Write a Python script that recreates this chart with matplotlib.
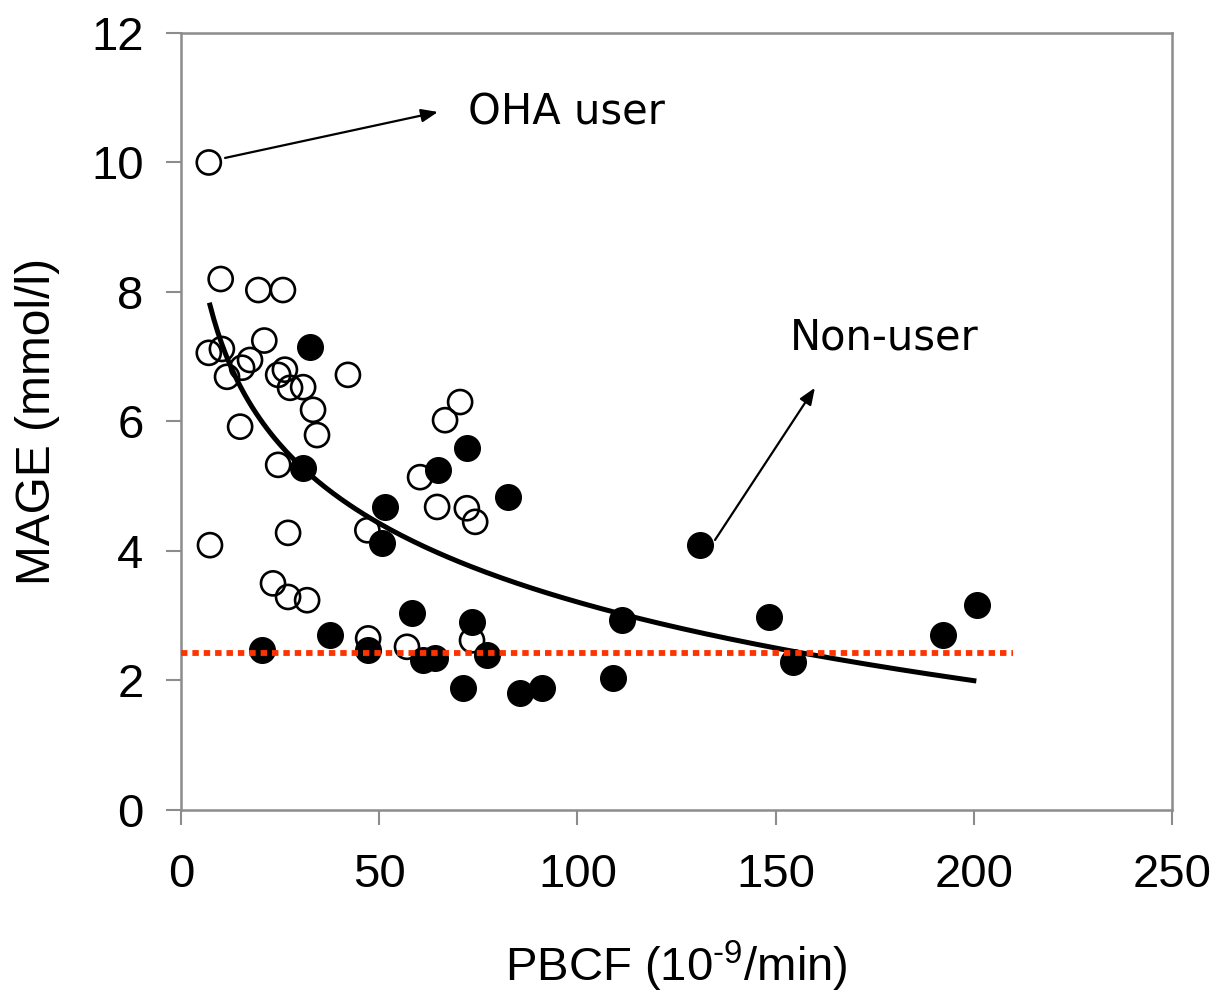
import matplotlib
matplotlib.use("Agg")
import matplotlib.pyplot as plt
import numpy as np

plt.rcParams["font.family"] = ["Liberation Sans", "DejaVu Sans"]
plt.rcParams["mathtext.default"] = "regular"

# OHA users (open circles)
oha_x = [7, 10, 19.5, 25.7, 7, 10.3, 21, 17.4, 15.4, 11.6, 24.5, 26.2, 27.5, 30.8,
         33.3, 34.3, 14.9, 42.1, 24.5, 47, 7.3, 27, 23.2, 27, 31.8, 47.2,
         70.4, 66.6, 60.3, 64.6, 72.1, 74.2, 73.4, 57]
oha_y = [10.0, 8.2, 8.03, 8.03, 7.06, 7.12, 7.25, 6.95, 6.83, 6.69, 6.72, 6.8, 6.52, 6.53,
         6.18, 5.79, 5.92, 6.72, 5.33, 4.32, 4.09, 4.28, 3.5, 3.29, 3.24, 2.65,
         6.30, 6.02, 5.14, 4.68, 4.66, 4.45, 2.62, 2.52]

# non-users (filled circles)
non_x = [32.5, 30.8, 51.5, 50.7, 64.8, 72.1, 82.5, 58.3, 73.4, 37.6, 20.4, 47.2,
         61, 64, 77.2, 71.1, 85.5, 91, 111.3, 109, 130.9, 148.3, 154.4, 192.2, 200.8]
non_y = [7.15, 5.28, 4.68, 4.12, 5.25, 5.59, 4.83, 3.04, 2.90, 2.70, 2.47, 2.47,
         2.32, 2.35, 2.39, 1.88, 1.81, 1.88, 2.93, 2.04, 4.09, 2.98, 2.29, 2.70, 3.17]

# logarithmic trendline y = a - b*ln(x)
FIT_A, FIT_B = 11.28, 1.752
FIT_RANGE = (7.3, 200)
THRESHOLD = 2.42
THRESH_RANGE = (0, 210)

fig = plt.figure(figsize=(12.2, 9.93), dpi=100)
ax = fig.add_axes([0.1484, 0.1843, 0.8123, 0.7825])

fx = np.linspace(*FIT_RANGE, 200)
ax.plot(fx, FIT_A - FIT_B * np.log(fx), color="black", lw=3.6, zorder=2)

ax.scatter(oha_x, oha_y, s=300, facecolors="none", edgecolors="black",
           linewidths=1.9, zorder=3)
ax.scatter(non_x, non_y, s=340, color="black", zorder=4)

ax.plot(THRESH_RANGE, [THRESHOLD, THRESHOLD], color="#ff3300", lw=4.2,
        linestyle=(0, (1.1, 0.85)), zorder=5)

arrow = dict(arrowstyle="-|>,head_length=1.0,head_width=0.4", color="black",
             lw=1.6, shrinkA=0, shrinkB=0)
ax.annotate("", xy=(64.8, 10.78), xytext=(11.1, 10.07), arrowprops=arrow)
ax.annotate("", xy=(159.9, 6.52), xytext=(134.7, 4.17), arrowprops=arrow)
ax.text(72.5, 10.77, "OHA user", fontsize=30, family="DejaVu Sans",
        ha="left", va="center")
ax.text(153.6, 7.29, "Non-user", fontsize=30, family="DejaVu Sans",
        ha="left", va="center")

ax.set_xlim(0, 250)
ax.set_ylim(0, 12)
ax.set_xticks([0, 50, 100, 150, 200, 250])
ax.set_yticks([0, 2, 4, 6, 8, 10, 12])
for sp in ax.spines.values():
    sp.set_color("#8c8c8c")
    sp.set_linewidth(1.8)
ax.tick_params(colors="#8c8c8c", labelcolor="black", length=11, width=1.5,
               labelsize=34)
ax.tick_params(axis="x", pad=20)
ax.tick_params(axis="y", pad=16)
ax.set_xlabel("PBCF (10$^{\u20109}$/min)", fontsize=34, labelpad=30)
ax.set_ylabel("MAGE (mmol/l)", fontsize=34.5, labelpad=22)

fig.savefig("out.png", dpi=100, facecolor="white")
